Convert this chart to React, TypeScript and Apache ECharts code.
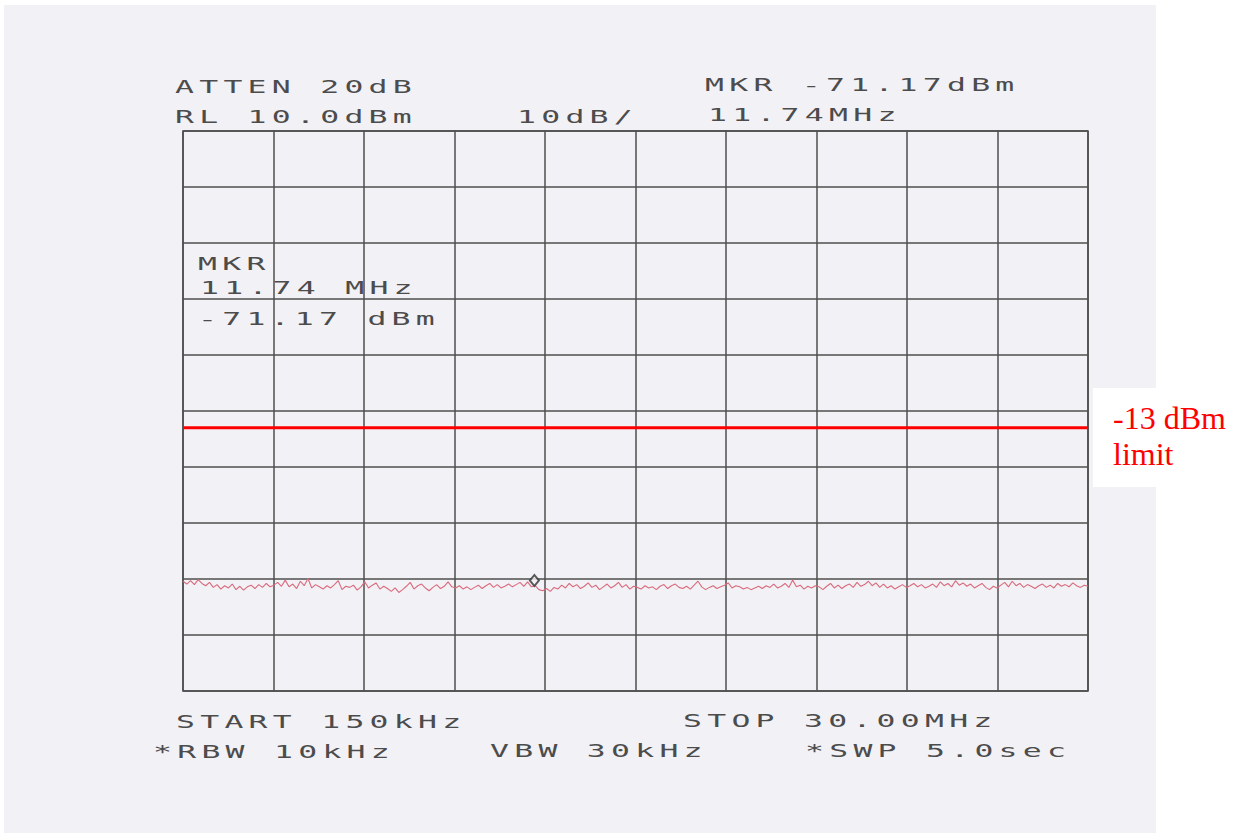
import { useEffect, useRef } from "react";
import * as echarts from "echarts";

// Sweep settings of the analyzer
const START_MHZ = 0.15;
const STOP_MHZ = 30.0;
const REF_LEVEL_DBM = 10;
const DB_PER_DIV = 10;
const DIVISIONS = 10;

// Marker readout
const MARKER_MHZ = 11.74;
const MARKER_DBM = -71.17;

// Emission limit; it is referenced through a 30 dB external offset,
// so it lives on its own (hidden) level axis.
const LIMIT_DBM = -13;
const LIMIT_OFFSET_DB = 30;

// Measured trace, one value per sweep bin (dBm), start to stop
const TRACE_DBM: number[] = [
  -70.4, -70.9, -70.3, -71.0, -70.1, -70.8, -71.2, -70.6, -71.5, -71.0, -71.8, -71.2,
  -71.6, -70.9, -71.9, -71.3, -72.0, -71.4, -71.1, -71.7, -71.0, -71.5, -70.8, -71.4,
  -71.1, -70.6, -71.3, -70.2, -71.4, -70.9, -71.7, -70.4, -71.2, -69.9, -71.6, -71.0,
  -71.4, -71.8, -71.2, -71.6, -71.0, -70.3, -71.9, -71.3, -71.5, -71.1, -72.0, -71.4,
  -70.5, -71.6, -71.1, -70.7, -71.8, -71.3, -71.7, -72.2, -71.6, -72.4, -71.9, -71.3,
  -70.6, -71.8, -71.2, -70.9, -71.6, -72.1, -71.5, -71.0, -71.7, -71.3, -70.5, -71.4,
  -71.6, -71.2, -71.8, -71.4, -71.9, -71.5, -71.1, -71.7, -71.2, -70.8, -71.5, -71.0,
  -71.6, -71.3, -70.9, -71.4, -71.0, -70.6, -71.3, -70.5, -71.4, -71.2, -71.9, -72.1,
  -71.7, -72.2, -71.5, -71.8, -71.1, -71.6, -70.8, -71.4, -71.0, -71.7, -71.3, -70.7,
  -71.5, -71.1, -71.9, -71.4, -70.9, -71.6, -71.2, -70.6, -71.5, -71.0, -71.8, -71.3,
  -71.5, -71.8, -71.2, -71.6, -71.4, -71.9, -71.3, -71.0, -71.7, -71.2, -70.9, -71.5,
  -71.7, -71.3, -71.8, -71.1, -70.4, -71.4, -71.9, -71.5, -71.2, -71.7, -71.4, -71.1,
  -70.7, -71.6, -71.2, -71.4, -71.8, -71.5, -71.9, -71.6, -71.3, -71.7, -71.2, -71.5,
  -70.9, -71.6, -71.3, -70.8, -71.5, -70.2, -71.4, -71.1, -71.8, -71.3, -71.6, -71.2,
  -71.4, -71.9, -71.3, -70.8, -71.6, -71.1, -71.7, -71.2, -70.9, -71.5, -70.6, -71.3,
  -71.0, -70.4, -71.2, -70.7, -71.5, -70.9, -71.6, -71.2, -71.8, -71.4, -71.0, -71.5,
  -71.2, -70.8, -71.4, -71.0, -71.6, -71.3, -70.9, -71.5, -70.5, -71.2, -70.8, -71.4,
  -70.3, -71.1, -70.7, -71.3, -70.9, -71.6, -71.2, -70.8, -71.5, -71.9, -71.3, -71.6,
  -71.1, -70.6, -71.4, -70.4, -71.2, -70.8, -71.5, -71.0, -71.3, -71.7, -71.2, -70.9,
  -71.5, -71.1, -71.6, -70.8, -71.3, -71.0, -71.4, -70.7, -71.2, -71.5, -71.1, -71.3,
];

// Plotter annotation texts
const HEADER_LEFT = ["ATTEN 20dB", "RL 10.0dBm"];
const HEADER_SCALE = "10dB/";
const HEADER_MARKER = [`MKR ${MARKER_DBM.toFixed(2)}dBm`, `${MARKER_MHZ.toFixed(2)}MHz`];
const MARKER_BOX = ["MKR", `${MARKER_MHZ.toFixed(2)} MHz`, `${MARKER_DBM.toFixed(2)} dBm`];
const FOOTER_TOP = ["START 150kHz", "STOP 30.00MHz"];
const FOOTER_BOTTOM = ["*RBW 10kHz", "VBW 30kHz", "*SWP 5.0sec"];
const LIMIT_LABEL = [`${LIMIT_DBM} dBm`, "limit"];

const PAPER = "#f2f1f6";
const INK = "#4c4c4c";
const GRID_INK = "#4e4e4e";
const TRACE_INK = "#d96a7c";
const LIMIT_INK = "#ff0000";

function plotterText(text: string, x: number, y: number) {
  return {
    type: "text",
    x,
    y,
    scaleX: 1.85,
    z: 20,
    silent: true,
    style: {
      text,
      fill: INK,
      fontFamily: "DejaVu Sans Mono",
      fontSize: 17,
      textAlign: "left",
      textVerticalAlign: "middle",
      verticalAlign: "middle",
    },
  };
}

export default function App() {
  const ref = useRef<HTMLDivElement>(null);

  useEffect(() => {
    if (!ref.current) return;
    const chart = echarts.init(ref.current, undefined, { renderer: "svg" });

    const step = (STOP_MHZ - START_MHZ) / (TRACE_DBM.length - 1);
    const trace = TRACE_DBM.map((v, i) => [START_MHZ + i * step, v]);
    const bottom = REF_LEVEL_DBM - DB_PER_DIV * DIVISIONS;

    const graphics: any[] = [
      // white surround outside the paper
      { type: "rect", shape: { x: 0, y: 0, width: 1240, height: 5 }, style: { fill: "#fff" }, z: 1, silent: true },
      { type: "rect", shape: { x: 0, y: 833, width: 1240, height: 5 }, style: { fill: "#fff" }, z: 1, silent: true },
      { type: "rect", shape: { x: 0, y: 0, width: 4, height: 838 }, style: { fill: "#fff" }, z: 1, silent: true },
      { type: "rect", shape: { x: 1156, y: 0, width: 84, height: 838 }, style: { fill: "#fff" }, z: 1, silent: true },
      // label box for the limit
      { type: "rect", shape: { x: 1093, y: 388, width: 147, height: 99 }, style: { fill: "#fff" }, z: 15, silent: true },
      plotterText(HEADER_LEFT[0], 175, 87),
      plotterText(HEADER_LEFT[1], 175, 117),
      plotterText(HEADER_SCALE, 517, 117),
      plotterText(HEADER_MARKER[0], 705, 85),
      plotterText(HEADER_MARKER[1], 708, 115),
      plotterText(MARKER_BOX[0], 198, 264),
      plotterText(MARKER_BOX[1], 200, 288),
      plotterText(MARKER_BOX[2], 198, 319),
      plotterText(FOOTER_TOP[0], 176, 722),
      plotterText(FOOTER_TOP[1], 683, 721),
      plotterText(FOOTER_BOTTOM[0], 153, 752),
      plotterText(FOOTER_BOTTOM[1], 490, 751),
      plotterText(FOOTER_BOTTOM[2], 805, 751),
      ...LIMIT_LABEL.map((t, i) => ({
        type: "text",
        x: 1113,
        y: 418 + i * 36,
        z: 20,
        silent: true,
        style: {
          text: t,
          fill: LIMIT_INK,
          fontFamily: "Liberation Serif",
          fontSize: 32,
          textAlign: "left",
          textVerticalAlign: "middle",
          verticalAlign: "middle",
        },
      })),
    ];

    chart.setOption({
      animation: false,
      backgroundColor: PAPER,
      grid: {
        left: 183,
        top: 131,
        width: 905,
        height: 560,
        show: true,
        borderColor: GRID_INK,
        borderWidth: 1.5,
        backgroundColor: "transparent",
      },
      xAxis: [
        { type: "value", min: START_MHZ, max: STOP_MHZ, show: false },
        {
          // graticule: ten horizontal divisions
          type: "value",
          min: 0,
          max: DIVISIONS,
          interval: 1,
          axisLine: { show: false },
          axisTick: { show: false },
          axisLabel: { show: false },
          splitLine: { show: true, lineStyle: { color: GRID_INK, width: 1.5 } },
        },
      ],
      yAxis: [
        {
          type: "value",
          min: bottom,
          max: REF_LEVEL_DBM,
          interval: DB_PER_DIV,
          axisLine: { show: false },
          axisTick: { show: false },
          axisLabel: { show: false },
          splitLine: { show: true, lineStyle: { color: GRID_INK, width: 1.5 } },
        },
        {
          type: "value",
          show: false,
          min: bottom + LIMIT_OFFSET_DB,
          max: REF_LEVEL_DBM + LIMIT_OFFSET_DB,
        },
      ],
      series: [
        {
          name: "trace",
          type: "line",
          xAxisIndex: 0,
          yAxisIndex: 0,
          data: trace,
          showSymbol: false,
          lineStyle: { color: TRACE_INK, width: 1.1 },
          z: 3,
        },
        {
          name: "limit",
          type: "line",
          xAxisIndex: 0,
          yAxisIndex: 1,
          data: [
            [START_MHZ, LIMIT_DBM],
            [STOP_MHZ, LIMIT_DBM],
          ],
          showSymbol: false,
          lineStyle: { color: LIMIT_INK, width: 3 },
          z: 4,
        },
        {
          name: "marker",
          type: "scatter",
          xAxisIndex: 0,
          yAxisIndex: 0,
          data: [[MARKER_MHZ, MARKER_DBM]],
          symbol: "diamond",
          symbolSize: [9, 11],
          symbolOffset: [0, -5],
          itemStyle: { color: PAPER, borderColor: "#333333", borderWidth: 2 },
          z: 5,
        },
      ],
      graphic: graphics,
    });

    return () => chart.dispose();
  }, []);

  return (
    <>
      <style>{`#spectrum-plot text[style*="DejaVu Sans Mono"]{letter-spacing:2.85px}`}</style>
      <div
        id="spectrum-plot"
        ref={ref}
        style={{ position: "fixed", left: 0, top: 0, width: 1240, height: 838 }}
      />
    </>
  );
}
